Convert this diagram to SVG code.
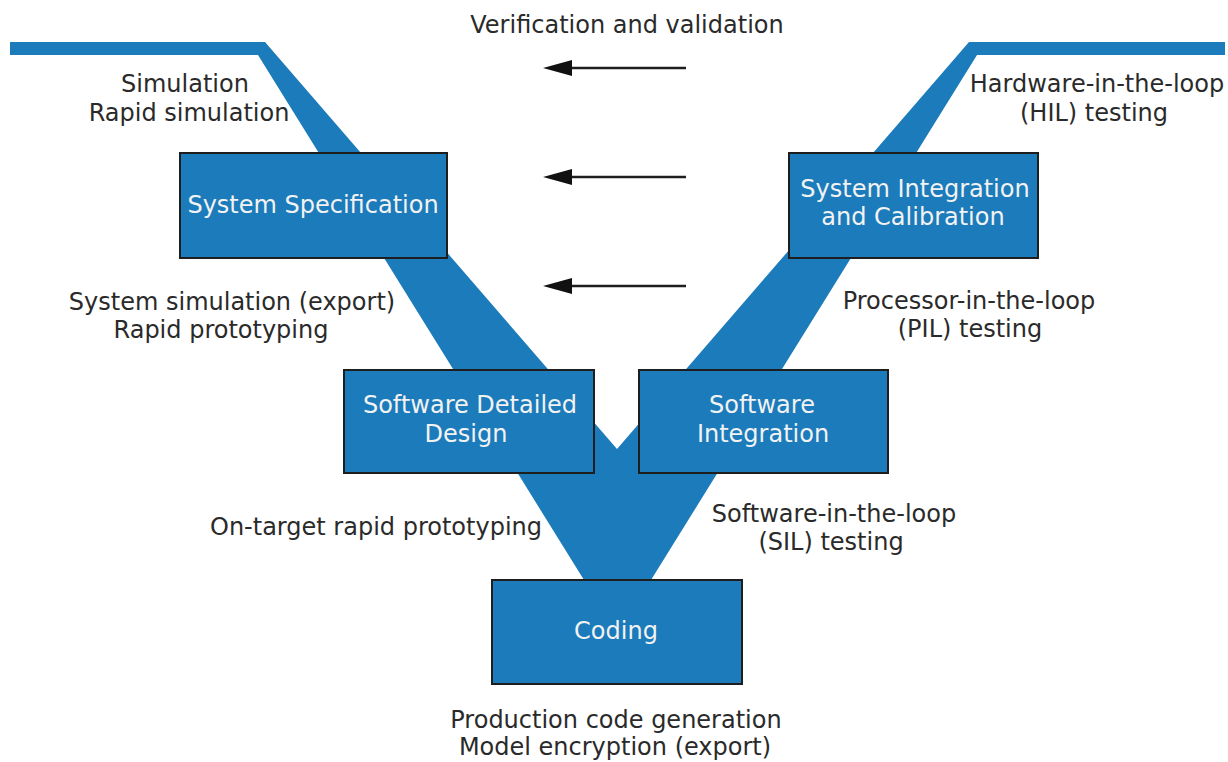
<svg xmlns="http://www.w3.org/2000/svg" width="1228" height="762" viewBox="0 0 1228 762">
<style>
  .band { fill: #1b7bbb; }
  .box rect { fill: #1b7bbb; stroke: #1e1e1e; stroke-width: 2; }
  .box text { fill: #f2f2f2; }
  text { font-family: "DejaVu Sans", Verdana, sans-serif; font-size: 24px; text-anchor: middle; }
  .lbl { fill: #2a2a2a; }
  .arr { stroke: #1e1e1e; stroke-width: 2.5; fill: none; }
  .head { fill: #111; }
</style>
<rect width="1228" height="762" fill="#ffffff"/>
<g id="band">
  <polygon class="band" points="10,42 265,42 617,449 969,42 1225,42 1225,55 977,55 651,580 584,580 258,55 10,55"/>
</g>
<g id="connectors">
  <line class="arr" x1="686" y1="68" x2="568" y2="68"/>
  <polygon class="head" points="543,68 572,60 572,76"/>
  <line class="arr" x1="686" y1="177" x2="568" y2="177"/>
  <polygon class="head" points="543,177 572,169 572,185"/>
  <line class="arr" x1="686" y1="286" x2="568" y2="286"/>
  <polygon class="head" points="543,286 572,278 572,294"/>
</g>
<g id="system-specification" class="box">
  <rect x="180" y="153" width="267" height="105"/>
  <text x="313" y="213">System Specification</text>
</g>
<g id="system-integration" class="box">
  <rect x="789" y="153" width="249" height="105"/>
  <text x="915" y="197">System Integration</text>
  <text x="913" y="225">and Calibration</text>
</g>
<g id="software-detailed-design" class="box">
  <rect x="344" y="370" width="250" height="103"/>
  <text x="470" y="413">Software Detailed</text>
  <text x="466" y="442">Design</text>
</g>
<g id="software-integration" class="box">
  <rect x="639" y="370" width="249" height="103"/>
  <text x="762" y="413">Software</text>
  <text x="763" y="442">Integration</text>
</g>
<g id="coding" class="box">
  <rect x="492" y="580" width="250" height="104"/>
  <text x="616" y="639">Coding</text>
</g>
<g id="labels">
  <text class="lbl" x="627" y="33">Verification and validation</text>
  <text class="lbl" x="185" y="92">Simulation</text>
  <text class="lbl" x="189" y="121">Rapid simulation</text>
  <text class="lbl" x="1097" y="92">Hardware-in-the-loop</text>
  <text class="lbl" x="1094" y="121">(HIL) testing</text>
  <text class="lbl" x="232" y="310">System simulation (export)</text>
  <text class="lbl" x="221" y="338">Rapid prototyping</text>
  <text class="lbl" x="969" y="309">Processor-in-the-loop</text>
  <text class="lbl" x="970" y="337">(PIL) testing</text>
  <text class="lbl" x="376" y="535">On-target rapid prototyping</text>
  <text class="lbl" x="834" y="522">Software-in-the-loop</text>
  <text class="lbl" x="831" y="550">(SIL) testing</text>
  <text class="lbl" x="616" y="728">Production code generation</text>
  <text class="lbl" x="615" y="755">Model encryption (export)</text>
</g>
</svg>
